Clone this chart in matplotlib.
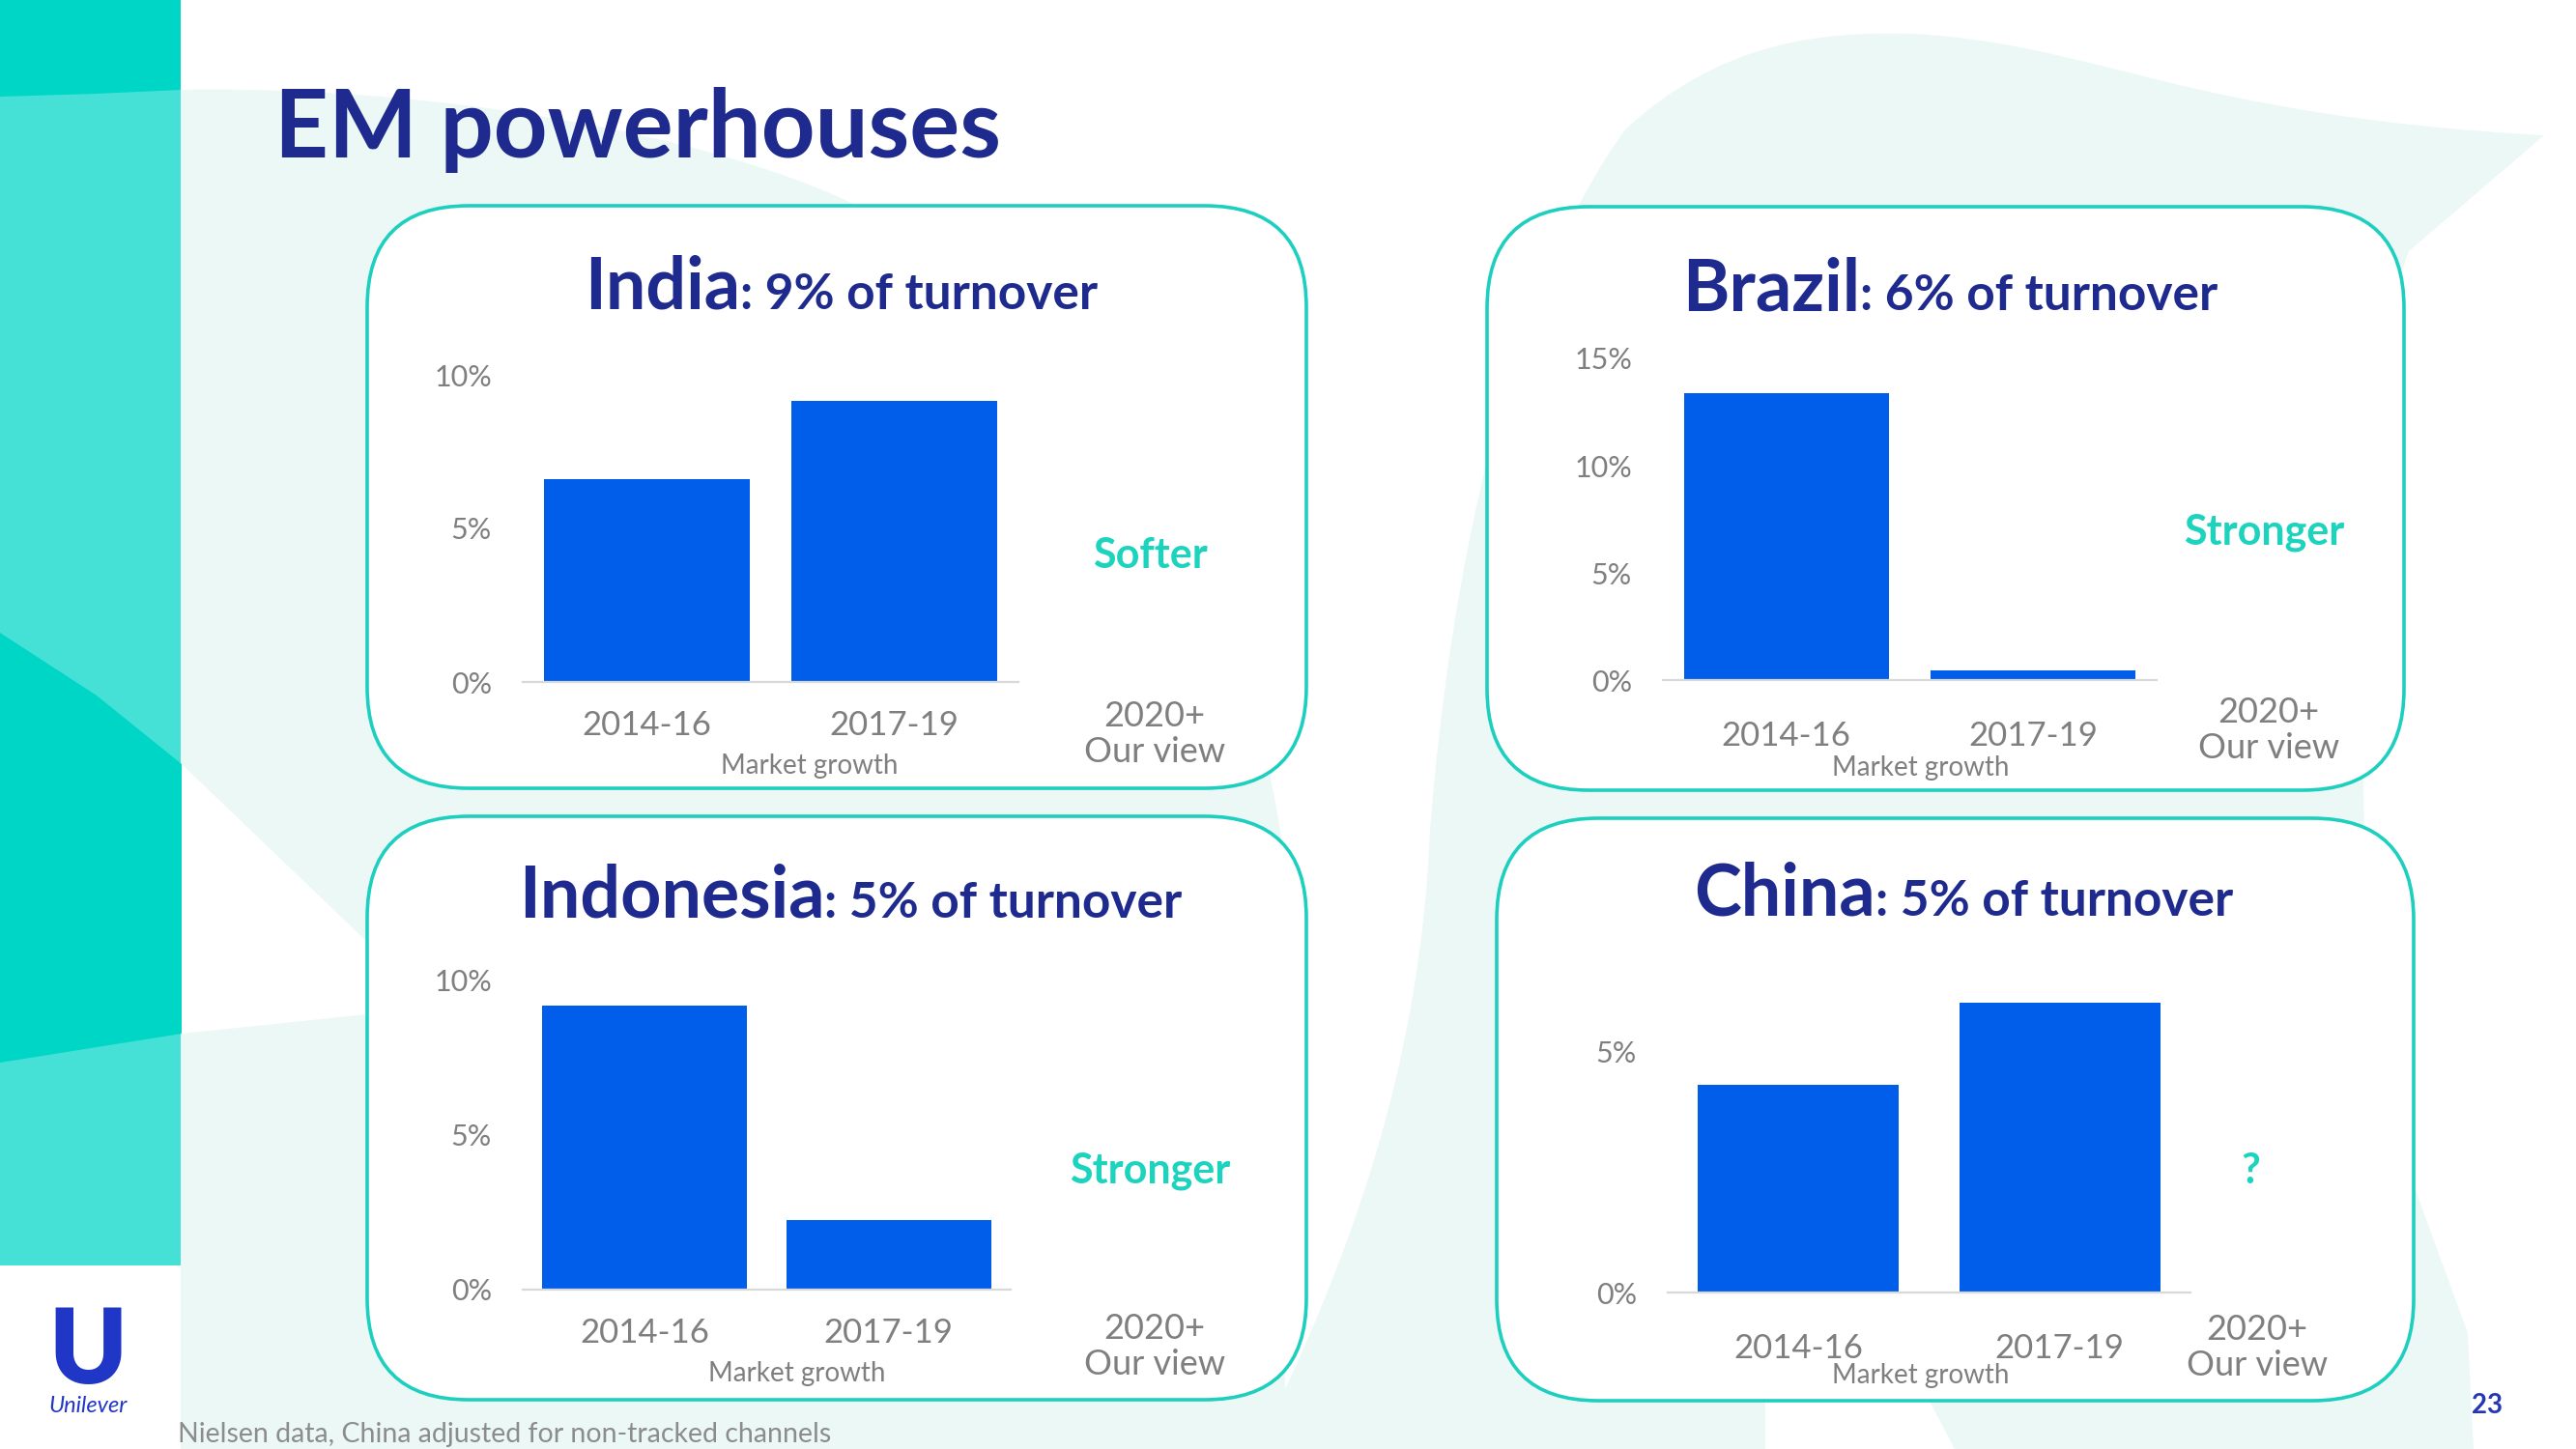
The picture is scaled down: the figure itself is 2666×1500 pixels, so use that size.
import numpy as np
import matplotlib.pyplot as plt
from matplotlib.patches import FancyBboxPatch, Polygon, PathPatch
from matplotlib.path import Path

# data
periods = ['2014-16', '2017-19']
markets = ['India', 'Brazil', 'Indonesia', 'China']
turnover = ['9%', '6%', '5%', '5%']
growth_india = [6.6, 9.15]
growth_brazil = [13.4, 0.45]
growth_indonesia = [9.2, 2.25]
growth_china = [4.3, 6.0]
outlook = ['Softer', 'Stronger', 'Stronger', '?']
yticks_india = [0, 5, 10]
yticks_brazil = [0, 5, 10, 15]
yticks_indonesia = [0, 5, 10]
yticks_china = [0, 5]

W, H = 2666, 1500
NAVY = '#1E2A8E'
BLUE = '#005EEB'
TEAL = '#1CD3BE'
GREY = '#7F7F7F'
MINT = '#ECF8F6'

plt.rcParams['font.family'] = ['Lato', 'DejaVu Sans']

fig = plt.figure(figsize=(W / 100, H / 100), dpi=100)
bg = fig.add_axes([0, 0, 1, 1], zorder=0)
bg.set_xlim(0, W)
bg.set_ylim(H, 0)
bg.axis('off')


def shape(steps):
    # steps: list of (code, [points]) -> PathPatch in pixel coords
    verts, codes = [], []
    for code, pts in steps:
        verts += pts
        codes += [code] * len(pts)
    verts.append(verts[0])
    codes.append(Path.CLOSEPOLY)
    return Path(verts, codes)


M, L, C = Path.MOVETO, Path.LINETO, Path.CURVE4
left_mint = shape([(M, [(187, 93)]),
                   (C, [(450, 88), (740, 140), (887, 213)]),
                   (C, [(1100, 330), (1300, 600), (1330, 900)]),
                   (L, [(1330, 1500), (187, 1500)])])
right_mint = shape([(M, [(1480, 860)]),
                    (C, [(1500, 600), (1560, 300), (1683, 133)]),
                    (C, [(1780, 45), (1880, 32), (1979, 35)]),
                    (C, [(2170, 45), (2260, 120), (2633, 140)]),
                    (L, [(2493, 260)]),
                    (C, [(2440, 400), (2430, 900), (2470, 1150)]),
                    (L, [(2554, 1380), (2560, 1500), (2023, 1500), (1960, 1380),
                         (1827, 1450), (1827, 1500), (1300, 1500)]),
                    (C, [(1400, 1300), (1470, 1100), (1480, 860)])])
bg.add_patch(PathPatch(left_mint, fc=MINT, ec='none', zorder=0))
bg.add_patch(PathPatch(right_mint, fc=MINT, ec='none', zorder=0))
bg.add_patch(Polygon([(188, 791), (380, 975), (380, 1050), (188, 1070)], closed=True,
                     fc='white', ec='none', zorder=0.5))
# left teal strip
bg.add_patch(Polygon([(0, 0), (187, 0), (187, 1310), (0, 1310)], closed=True,
                     fc='#45E1D6', ec='none', zorder=1))
bg.add_patch(Polygon([(0, 0), (187, 0), (187, 93), (100, 97), (0, 100)], closed=True,
                     fc='#00D6C6', ec='none', zorder=1.1))
bg.add_patch(Polygon([(0, 655), (100, 720), (188, 791), (188, 1070), (0, 1100)], closed=True,
                     fc='#00D6C6', ec='none', zorder=1.1))

# slide title
bg.text(284, 163, 'EM powerhouses', fontsize=70, fontweight='bold', color=NAVY,
        va='baseline', ha='left')

# panel layout: box, axes area, title, annotations (pixel coords)
layout = [
    dict(box=(380, 213, 1352, 816), ax=(541, 1054, 388, 706), ylim=10, title=(871, 320),
         mg=(838, 793), view=(1195, 760), out=(1190, 575), pad=21, width=0.83),
    dict(box=(1539, 214, 2488, 818), ax=(1721, 2232, 371, 704), ylim=15, title=(2018, 321),
         mg=(1988, 795), view=(2348, 756), out=(2343, 551), pad=30, width=0.83),
    dict(box=(380, 845, 1352, 1449), ax=(541, 1046, 1015, 1335), ylim=10, title=(880, 950),
         mg=(825, 1422), view=(1195, 1394), out=(1190, 1212), pad=21, width=0.84),
    dict(box=(1549, 847, 2498, 1450), ax=(1726, 2267, 988, 1338), ylim=7, title=(2032, 948),
         mg=(1988, 1424), view=(2336, 1395), out=(2329, 1212), pad=30, width=0.77),
]
series = [growth_india, growth_brazil, growth_indonesia, growth_china]
yticks = [yticks_india, yticks_brazil, yticks_indonesia, yticks_china]

renderer = fig.canvas.get_renderer()

for name, share, vals, ticks, look, lay in zip(markets, turnover, series, yticks, outlook, layout):
    x0, y0, x1, y1 = lay['box']
    bg.add_patch(FancyBboxPatch((x0, y0), x1 - x0, y1 - y0,
                                boxstyle='round,pad=0,rounding_size=105',
                                fc='white', ec='#1DCFBE', lw=2.6, zorder=2))

    ax0, ax1, ayt, ayb = lay['ax']
    ax = fig.add_axes([ax0 / W, 1 - ayb / H, (ax1 - ax0) / W, (ayb - ayt) / H], zorder=3)
    ax.patch.set_alpha(0)
    xs = np.arange(len(periods))
    ax.bar(xs, vals, width=lay['width'], color=BLUE)
    ax.set_xlim(-0.5, 1.5)
    ax.set_ylim(0, lay['ylim'])
    ax.set_xticks(xs)
    ax.set_xticklabels(periods)
    ax.set_yticks(ticks)
    ax.set_yticklabels([f'{t}%' for t in ticks])
    for s in ['top', 'right', 'left']:
        ax.spines[s].set_visible(False)
    ax.spines['bottom'].set_color('#D9D9D9')
    ax.spines['bottom'].set_linewidth(1.6)
    ax.tick_params(axis='x', length=0, pad=lay['pad'], labelsize=25, labelcolor=GREY)
    ax.tick_params(axis='y', length=0, pad=23, labelsize=22, labelcolor=GREY)

    # two-size title centred on the panel
    cx, base = lay['title']
    t1 = bg.text(0, base, name, fontsize=53, fontweight='bold', color=NAVY,
                 va='baseline', ha='left', zorder=4)
    t2 = bg.text(0, base, ': ' + share + ' of turnover', fontsize=37, fontweight='bold',
                 color=NAVY, va='baseline', ha='left', zorder=4)
    w1 = t1.get_window_extent(renderer).width
    w2 = t2.get_window_extent(renderer).width
    t1.set_x(cx - (w1 + w2) / 2)
    t2.set_x(cx - (w1 + w2) / 2 + w1)

    bg.text(*lay['mg'], 'Market growth', fontsize=20, color=GREY, ha='center', va='center', zorder=4)
    bg.text(*lay['view'], '2020+\nOur view', fontsize=26, color=GREY, ha='center', va='center',
            linespacing=1.12, zorder=4)
    bg.text(*lay['out'], look, fontsize=31, fontweight='bold', color=TEAL, ha='center',
            va='center', zorder=4)

# footer
bg.text(184, 1493, 'Nielsen data, China adjusted for non-tracked channels', fontsize=20.5,
        color='#8C8C8C', ha='left', va='baseline')
bg.text(2574, 1463, '23', fontsize=20, fontweight='bold', color='#2637B5', ha='center',
        va='baseline')
bg.text(91, 1432, 'U', fontsize=78, fontweight='heavy', color='#1F36C7', ha='center',
        va='baseline')
bg.text(91, 1462, 'Unilever', fontsize=17, style='italic', color='#1F36C7', ha='center',
        va='baseline')

fig.savefig('out.png', dpi=100)
